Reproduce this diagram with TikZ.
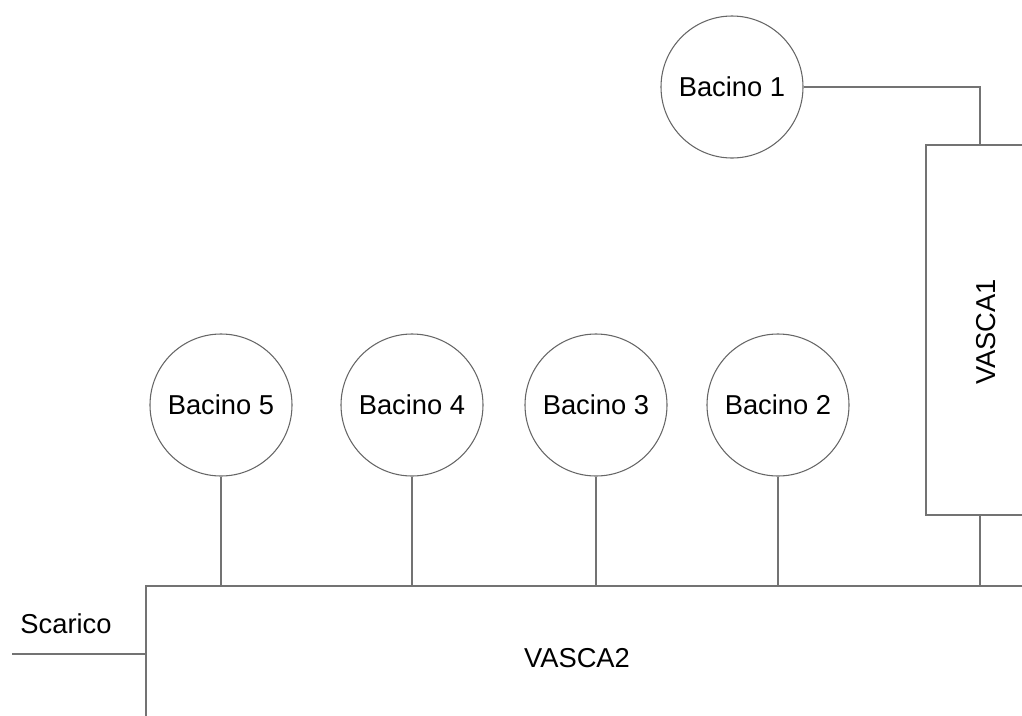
\documentclass[tikz,border=0pt]{standalone}
\usepackage{fontspec}
\setmainfont{Liberation Sans}
\begin{document}
\begin{tikzpicture}[x=0.75pt,y=-0.75pt,
  line width=0.8pt,
  lbl/.style={font=\fontsize{20.5}{24}\selectfont, text=black, inner sep=0pt},
  basin/.style={circle, draw=black!60, minimum size=142*0.75pt, inner sep=0pt,
                font=\fontsize{20.5}{24}\selectfont},
  tank/.style={draw=black!55, inner sep=0pt},
  pipe/.style={draw=black!55}]
\useasboundingbox (0,0) rectangle (1022,715);
\clip (0,0) rectangle (1022,715);

% tanks (both run off the right edge, VASCA2 also off the bottom)
\node[tank, minimum width=114*0.75pt, minimum height=370*0.75pt] (v1) at (983,330) {};
\node[tank, minimum width=900*0.75pt, minimum height=160*0.75pt] (v2) at (596,666) {};
\node[lbl, rotate=90] (v1t) at (986,332) {VASCA1};
\node[lbl] (v2t) at (577,658) {VASCA2};

% basins
\node[basin] (b1) at (732,87) {Bacino 1};
\node[basin] (b2) at (778,405) {Bacino 2};
\node[basin] (b3) at (596,405) {Bacino 3};
\node[basin] (b4) at (412,405) {Bacino 4};
\node[basin] (b5) at (221,405) {Bacino 5};

% pipes
\coordinate (j) at (980,0);
\draw[pipe] (b1.east) -| (j |- v1.north);
\draw[pipe] (j |- v1.south) -- (j |- v2.north);
\foreach \b in {b2,b3,b4,b5}
  \draw[pipe] (\b.south) -- (\b.south |- v2.north);

% outlet
\node[lbl] (sc) at (66,624) {Scarico};
\coordinate (out) at (12,654);
\draw[pipe] (out) -- (out -| v2.west);
\end{tikzpicture}
\end{document}
